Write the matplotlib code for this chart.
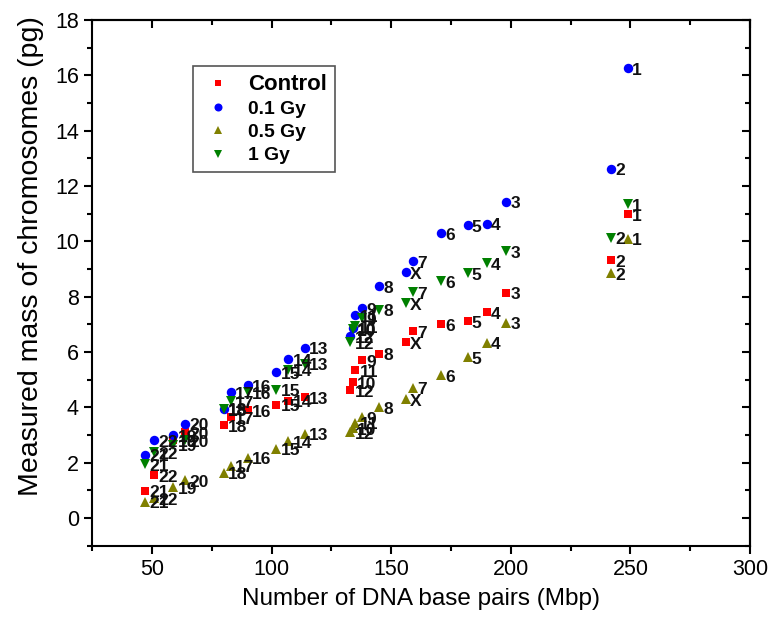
import matplotlib
matplotlib.use("Agg")
import matplotlib.pyplot as plt
from matplotlib.ticker import MultipleLocator
from matplotlib.lines import Line2D

plt.rcParams['font.family'] = ['Liberation Sans', 'DejaVu Sans']

chrom_labels = ['1', '2', '3', '4', '5', '6', '7', 'X', '8', '9', '10', '11', '12',
                '13', '14', '15', '16', '17', '18', '19', '20', '21', '22']
bp_mbp = [249, 242, 198, 190, 182, 171, 159, 156, 145, 138, 134, 135, 133,
          114, 107, 102, 90, 83, 80, 59, 64, 47, 51]

control = [10.97, 9.32, 8.14, 7.44, 7.10, 7.00, 6.75, 6.34, 5.93, 5.70, 4.90, 5.34, 4.62,
           4.36, 4.24, 4.09, 3.89, 3.65, 3.35, 2.81, 3.10, 0.98, 1.54]
gy01 = [16.25, 12.62, 11.43, 10.64, 10.58, 10.28, 9.28, 8.88, 8.38, 7.58, 6.85, 7.32, 6.57,
        6.15, 5.73, 5.27, 4.80, 4.54, 3.92, 2.99, 3.41, 2.28, 2.81]
gy05 = [10.09, 8.84, 7.05, 6.33, 5.80, 5.15, 4.70, 4.28, 4.01, 3.65, 3.25, 3.44, 3.10,
        3.05, 2.77, 2.50, 2.17, 1.89, 1.63, 1.12, 1.36, 0.59, 0.72]
gy1 = [11.33, 10.13, 9.64, 9.20, 8.84, 8.56, 8.16, 7.75, 7.53, 7.22, 6.81, 6.93, 6.35,
       5.57, 5.36, 4.64, 4.54, 4.22, 3.94, 2.65, 2.81, 1.94, 2.37]

series = [
    ('Control', control, 's', '#FF0000', 5.8),
    ('0.1 Gy', gy01, 'o', '#0000FF', 6.8),
    ('0.5 Gy', gy05, '^', '#808000', 6.8),
    ('1 Gy', gy1, 'v', '#008000', 6.8),
]

fig = plt.figure(figsize=(7.74, 6.20), dpi=100)
ax = fig.add_axes([0.119, 0.120, 0.850, 0.848])

for name, vals, mk, col, ms in series:
    ax.plot(bp_mbp, vals, linestyle='none', marker=mk, color=col, markersize=ms,
            markeredgewidth=0, label=name)
    for lab, xv, yv in zip(chrom_labels, bp_mbp, vals):
        ax.annotate(lab, (xv, yv), xytext=(3.0, -1.5), textcoords='offset points',
                    ha='left', va='center', fontsize=12.5, fontweight='bold', color='#111111')

ax.set_xlim(25, 300)
ax.set_ylim(-1, 18)
ax.xaxis.set_major_locator(MultipleLocator(50))
ax.xaxis.set_minor_locator(MultipleLocator(25))
ax.yaxis.set_major_locator(MultipleLocator(2))
ax.yaxis.set_minor_locator(MultipleLocator(1))

for sp in ax.spines.values():
    sp.set_linewidth(1.5)
    sp.set_color('black')

ax.tick_params(axis='both', which='both', direction='out', width=1.5, labelsize=15.5,
               top=False, right=False)
ax.tick_params(which='major', length=6)
ax.tick_params(which='minor', length=3.5)
ax2 = ax.secondary_xaxis('top')
ax2.xaxis.set_major_locator(MultipleLocator(50))
ax2.xaxis.set_minor_locator(MultipleLocator(25))
ax2.tick_params(which='both', direction='in', width=1.5, labeltop=False)
ax2.tick_params(which='major', length=6)
ax2.tick_params(which='minor', length=3.5)
ax3 = ax.secondary_yaxis('right')
ax3.yaxis.set_major_locator(MultipleLocator(2))
ax3.yaxis.set_minor_locator(MultipleLocator(1))
ax3.tick_params(which='both', direction='in', width=1.5, labelright=False)
ax3.tick_params(which='major', length=6)
ax3.tick_params(which='minor', length=3.5)
for a in (ax2, ax3):
    for sp in a.spines.values():
        sp.set_linewidth(1.5)

ax.set_xlabel('Number of DNA base pairs (Mbp)', fontsize=17.5, labelpad=6)
ax.set_ylabel('Measured mass of chromosomes (pg)', fontsize=20.5)
ax.yaxis.set_label_coords(-0.073, 0.55)

handles = [Line2D([], [], linestyle='none', marker=mk, color=col, markersize=ms * 0.85,
                  markeredgewidth=0) for _, _, mk, col, ms in series]
leg = ax.legend(handles, [s[0] for s in series], loc='upper left',
                bbox_to_anchor=(0.1535, 0.9125), borderaxespad=0, frameon=True,
                fancybox=False, edgecolor='#555555', framealpha=1, borderpad=0.4,
                handlelength=1.8, handletextpad=0.65, labelspacing=0.3,
                prop={'weight': 'bold', 'size': 13.9})
leg.get_frame().set_linewidth(1.2)
leg.get_texts()[0].set_fontsize(16)

fig.savefig('out.png', dpi=100)
